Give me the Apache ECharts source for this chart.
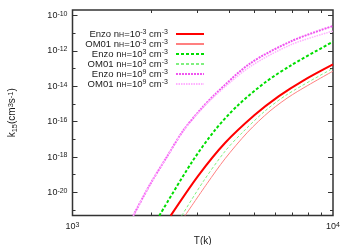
<!DOCTYPE html>
<html><head><meta charset="utf-8">
<script src="https://cdn.jsdelivr.net/npm/echarts@6/dist/echarts.min.js"></script>
<style>html,body{margin:0;padding:0;background:#fff}#c{width:349px;height:245px}</style>
</head><body><div id="c"></div>
<script>
// Temperatures (K) and log10 of rate coefficient k15 (cm^3 s^-1)
const enzoLowT     = [2382, 3041, 3849, 5000, 6200, 7691, 10000];
const enzoLowLogK  = [-21.31, -19.05, -17.21, -15.63, -14.56, -13.68, -12.77];
const om01LowT     = [2704, 3284, 3849, 4700, 5731, 7000, 10000];
const om01LowLogK  = [-21.31, -19.5, -18.1, -16.6, -15.4, -14.47, -13.15];
const enzoMidT     = [2154, 2869, 3524, 4300, 5500, 6941, 10000];
const enzoMidLogK  = [-21.31, -18.3, -16.48, -15.1, -13.78, -12.8, -11.49];
const om01MidT     = [2626, 3170, 3849, 4500, 5483, 6700, 10000];
const om01MidLogK  = [-21.31, -19.4, -17.68, -16.6, -15.4, -14.45, -12.99];
const enzoHighT    = [1711, 1984, 2300, 2663, 3086, 3578, 4803, 6941, 10000];
const enzoHighLogK = [-21.31, -19.55, -18.0, -16.5, -15.35, -14.37, -12.72, -11.45, -10.6];
const om01HighT    = [1711, 1984, 2300, 2663, 3086, 3578, 4803, 6941, 10000];
const om01HighLogK = [-21.31, -19.55, -18.0, -16.52, -15.39, -14.45, -12.9, -11.64, -10.89];

const seriesNames = ['Enzo 1e-3', 'OM01 1e-3', 'Enzo 1e3', 'OM01 1e3', 'Enzo 1e9', 'OM01 1e9'];
const legendCode  = ['Enzo', 'OM01', 'Enzo', 'OM01', 'Enzo', 'OM01'];
const legendExp   = ['-3', '-3', '3', '3', '9', '9'];

// axis ranges / ticks
const xMinT = 1000, xMaxT = 10000;
const yMinVal = 5e-22, yMaxVal = 2e-10;
const yLabelExps = [-20, -18, -16, -14, -12, -10];
const yTickExps = [-21, -20, -19, -18, -17, -16, -15, -14, -13, -12, -11, -10];
const xLabelExps = [3, 4];
const xMinorTicks = [2000, 3000, 4000, 5000, 6000, 7000, 8000, 9000];

const FONT = 'Liberation Sans, Arial, sans-serif';
const TXT = '#1a1a1a';
const rich = {
  b:   {fontFamily: FONT, fontSize: 9.5, lineHeight: 10, color: TXT},
  sup: {fontFamily: FONT, fontSize: 7, lineHeight: 4, verticalAlign: 'top', color: TXT},
  sub: {fontFamily: FONT, fontSize: 7, lineHeight: 2, verticalAlign: 'bottom', color: TXT}
};
const tickRich = {
  b:   {fontFamily: FONT, fontSize: 9, lineHeight: 10, color: TXT},
  sup: {fontFamily: FONT, fontSize: 7, lineHeight: 4, verticalAlign: 'top', color: TXT}
};
const nameRich = {
  b:   {fontFamily: FONT, fontSize: 10, lineHeight: 12, color: TXT},
  sup: {fontFamily: FONT, fontSize: 7.5, lineHeight: 5, verticalAlign: 'top', color: TXT},
  sub: {fontFamily: FONT, fontSize: 7.5, lineHeight: 4, verticalAlign: 'bottom', color: TXT}
};

const toPairs = (T, L) => T.map((t, i) => [Math.log10(t), L[i]]);
const styles = [
  {color: '#ff0000', width: 2, type: 'solid'},
  {color: '#ff8080', width: 1, type: 'solid'},
  {color: '#00dd00', width: 2, type: [3, 2]},
  {color: '#80f080', width: 1, type: [3, 2]},
  {color: '#f055f0', width: 2, type: [2, 1]},
  {color: '#ffb0ff', width: 1.5, type: [1.5, 1]}
];
const dataSets = [
  toPairs(enzoLowT, enzoLowLogK), toPairs(om01LowT, om01LowLogK),
  toPairs(enzoMidT, enzoMidLogK), toPairs(om01MidT, om01MidLogK),
  toPairs(enzoHighT, enzoHighLogK), toPairs(om01HighT, om01HighLogK)
];

const xMin = Math.log10(xMinT), xMax = Math.log10(xMaxT);
const yMin = Math.log10(yMinVal), yMax = Math.log10(yMaxVal);
const yMajor = yLabelExps, yMinor = yTickExps.filter(e => yLabelExps.indexOf(e) < 0);
const xMinor = xMinorTicks.map(v => Math.log10(v));
const lineC = '#333';

function yAx(pos, ticks, len, labels, extra) {
  return Object.assign({
    type: 'value', position: pos, min: yMin, max: yMax,
    axisLine: {show: false}, splitLine: {show: false},
    axisTick: {show: true, inside: true, length: len, customValues: ticks, lineStyle: {color: lineC, width: 1}},
    axisLabel: labels ? {show: true, customValues: yLabelExps, margin: 5,
      formatter: v => '{b|10}{sup|' + Math.round(v) + '}', rich: tickRich} : {show: false}
  }, extra || {});
}
function xAx(pos, ticks, len, labels, extra) {
  return Object.assign({
    type: 'value', position: pos, min: xMin, max: xMax,
    axisLine: {show: false}, splitLine: {show: false},
    axisTick: {show: true, inside: true, length: len, customValues: ticks, lineStyle: {color: lineC, width: 1}},
    axisLabel: labels ? {show: true, customValues: xLabelExps, margin: 6,
      formatter: v => '{b|10}{sup|' + Math.round(v) + '}', rich: tickRich} : {show: false}
  }, extra || {});
}

const chart = echarts.init(document.getElementById('c'), null, {renderer: 'canvas'});
chart.setOption({
  animation: false,
  backgroundColor: '#fff',
  grid: {left: 72.5, right: 16, top: 10, bottom: 29.5, show: true, borderColor: lineC, borderWidth: 1.5,
         containLabel: false, outerBoundsMode: 'none'},
  xAxis: [
    xAx('bottom', xMinor, 3, true, {name: '{b|T(k)}', nameLocation: 'middle', nameGap: 14,
        nameTextStyle: {rich: nameRich}}),
    xAx('top', xMinor, 3, false)
  ],
  yAxis: [
    yAx('left', yMajor, 5, true, {name: '{b|k}{sub|15}{b|(cm}{sup|3}{b|s}{sup|-1}{b|)}', nameLocation: 'middle',
        nameGap: 54, nameRotate: 90, nameTextStyle: {rich: nameRich}}),
    yAx('left', yMinor, 3, false),
    yAx('right', yMajor, 5, false),
    yAx('right', yMinor, 3, false)
  ],
  legend: {
    orient: 'vertical', align: 'right', right: 144, top: 29, itemWidth: 28, itemHeight: 10,
    itemGap: 0, padding: 0, selectedMode: false,
    data: seriesNames,
    itemStyle: {opacity: 0},
    formatter: name => {
      const i = seriesNames.indexOf(name);
      return '{b|' + legendCode[i] + ' n}{sub|H}{b|=10}{sup|' + legendExp[i] + '}{b| cm}{sup|-3}';
    },
    textStyle: {rich: rich, padding: [0, 3, 0, 0]}
  },
  series: dataSets.map((d, i) => ({
    name: seriesNames[i], type: 'line', data: d, xAxisIndex: 0, yAxisIndex: 0,
    symbol: 'none', showSymbol: false, smooth: 0.3, clip: true,
    lineStyle: {color: styles[i].color, width: styles[i].width, type: styles[i].type},
    itemStyle: {color: styles[i].color}
  }))
});
</script></body></html>
